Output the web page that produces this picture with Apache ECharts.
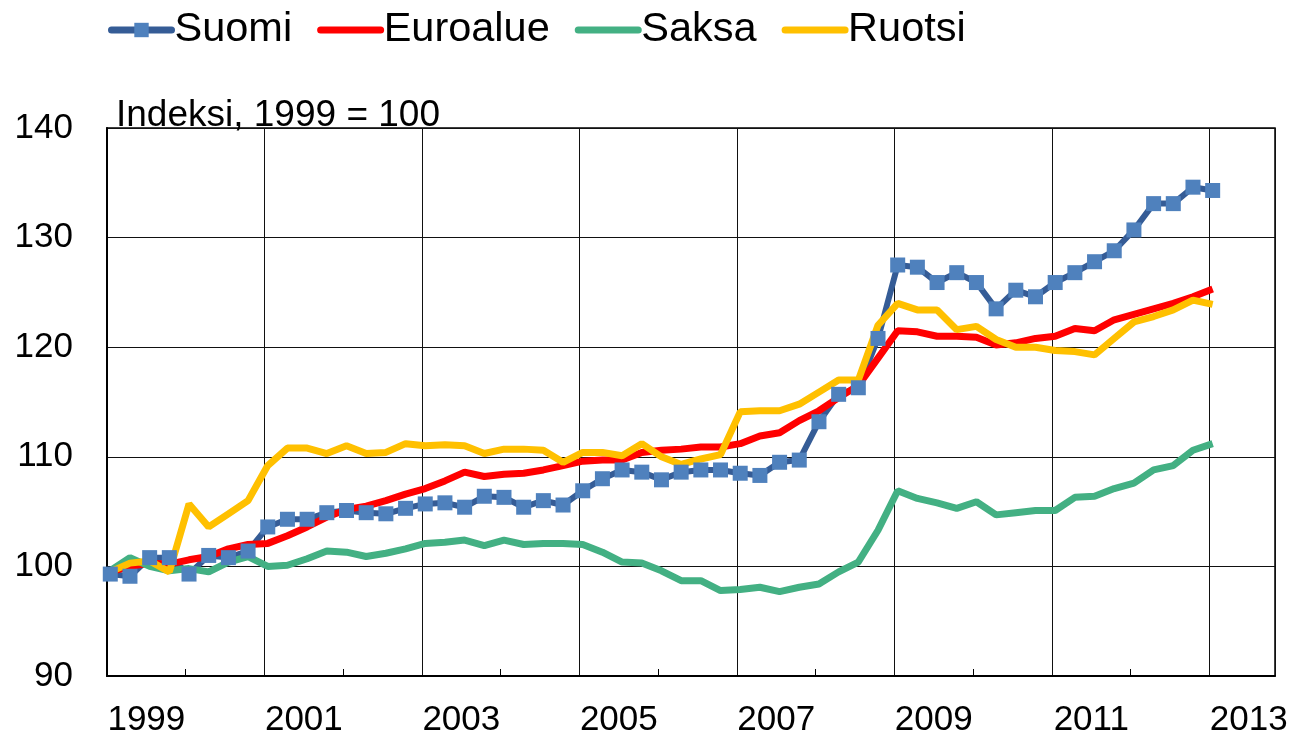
<!DOCTYPE html>
<html>
<head>
<meta charset="utf-8">
<script src="https://cdn.jsdelivr.net/npm/echarts@6/dist/echarts.min.js"></script>
<style>
html,body{margin:0;padding:0;background:#fff;}
#chart{width:1294px;height:738px;}
</style>
</head>
<body>
<div id="chart"></div>
<script>
// Quarters 1999Q1 .. 2013Q1
const quarters = [];
for (let y = 1999; y <= 2013; y++) for (let q = 1; q <= 4; q++) { if (y === 2013 && q > 1) break; quarters.push(y + 'Q' + q); }

const suomi = [99.3,99.1,100.8,100.8,99.3,101.0,100.8,101.4,103.6,104.3,104.3,104.9,105.1,104.9,104.8,105.3,105.7,105.8,105.4,106.4,106.3,105.4,106.0,105.6,106.9,108.0,108.8,108.6,107.9,108.6,108.8,108.8,108.5,108.3,109.5,109.7,113.2,115.7,116.3,120.8,127.5,127.3,125.9,126.8,125.9,123.5,125.2,124.6,125.9,126.8,127.8,128.8,130.7,133.1,133.1,134.6,134.3];
const euroalue = [99.5,100.0,100.3,100.2,100.6,100.9,101.6,102.0,102.1,102.8,103.6,104.5,105.2,105.5,106.0,106.6,107.1,107.8,108.6,108.2,108.4,108.5,108.8,109.2,109.6,109.7,109.7,110.4,110.6,110.7,110.9,110.9,111.2,111.9,112.2,113.3,114.2,115.4,116.5,119.0,121.5,121.4,121.0,121.0,120.9,120.2,120.4,120.8,121.0,121.7,121.5,122.5,123.0,123.5,124.0,124.6,125.3];
const saksa = [99.6,100.8,100.0,99.6,99.8,99.5,100.4,100.9,100.0,100.1,100.7,101.4,101.3,100.9,101.2,101.6,102.1,102.2,102.4,101.9,102.4,102.0,102.1,102.1,102.0,101.3,100.4,100.3,99.6,98.7,98.7,97.8,97.9,98.1,97.7,98.1,98.4,99.5,100.4,103.3,106.9,106.2,105.8,105.3,105.9,104.7,104.9,105.1,105.1,106.3,106.4,107.1,107.6,108.8,109.2,110.6,111.2];
const ruotsi = [99.5,100.3,100.5,99.5,105.7,103.6,104.8,106.0,109.2,110.8,110.8,110.3,111.0,110.3,110.4,111.2,111.0,111.1,111.0,110.3,110.7,110.7,110.6,109.5,110.4,110.4,110.1,111.2,110.0,109.3,109.8,110.2,114.1,114.2,114.2,114.8,115.9,117.0,117.0,122.0,124.0,123.4,123.4,121.6,121.9,120.7,120.0,120.0,119.7,119.6,119.3,120.8,122.3,122.8,123.4,124.3,123.9];

const xLabels = ['1999','2001','2003','2005','2007','2009','2011','2013'];
const minorYears = ['2000','2002','2004','2006','2008','2010','2012'];
const yTicks = [90,100,110,120,130,140];

// x coordinate: months since Jan 1999 (point placed in first month of quarter)
function qToX(q) { const y = +q.slice(0,4), n = +q.slice(5); return (y - 1999) * 12 + (n - 1) * 3 + 0.5; }
function pairs(arr) { return arr.map((v, i) => [qToX(quarters[i]), v]); }
const labelPos = xLabels.map(y => (+y - 1999) * 12 + 6);
const minorPos = minorYears.map(y => (+y - 1999) * 12);

const FONT = '"Liberation Sans", Arial, sans-serif';
const chart = echarts.init(document.getElementById('chart'), null, {renderer: 'canvas'});
chart.setOption({
  animation: false,
  backgroundColor: '#fff',
  title: {
    text: 'Indeksi, 1999 = 100', left: 111, top: 92,
    textStyle: {fontFamily: FONT, fontSize: 37, fontWeight: 'normal', color: '#000'}
  },
  legend: {
    left: 103, top: 4, itemWidth: 60, itemHeight: 18, itemGap: 25,
    lineStyle: {width: 7, cap: 'round'},
    textStyle: {fontFamily: FONT, fontSize: 41.5, color: '#000', padding: [0,0,0,-2]},
    data: [
      {name: 'Suomi', lineStyle: {color: '#355C96', width: 7, cap: 'round'}},
      {name: 'Euroalue', itemStyle: {opacity: 0}},
      {name: 'Saksa', itemStyle: {opacity: 0}},
      {name: 'Ruotsi', itemStyle: {opacity: 0}}
    ]
  },
  grid: {left: 107, right: 19, top: 128, bottom: 62, show: true, borderColor: '#000', borderWidth: 1.5, containLabel: false, outerBoundsMode: 'none'},
  xAxis: [{
    type: 'value', min: 0, max: 178, interval: 24,
    axisLine: {show: true, lineStyle: {color: '#000', width: 2}},
    axisTick: {show: false},
    splitLine: {show: true, lineStyle: {color: '#111', width: 1}},
    axisLabel: {
      customValues: labelPos, margin: 27,
      fontFamily: FONT, fontSize: 35, color: '#000',
      formatter: v => xLabels[labelPos.indexOf(v)] || ''
    }
  }, {
    type: 'value', min: 0, max: 178, position: 'bottom', offset: 0,
    axisLine: {show: false}, splitLine: {show: false}, axisLabel: {show: false},
    axisTick: {show: true, inside: true, length: 7, customValues: minorPos, lineStyle: {color: '#000', width: 1}}
  }],
  yAxis: {
    type: 'value', min: yTicks[0], max: yTicks[yTicks.length-1], interval: 10,
    axisLine: {show: true, lineStyle: {color: '#000', width: 2}},
    axisTick: {show: false},
    splitLine: {show: true, lineStyle: {color: '#111', width: 1}},
    axisLabel: {margin: 34, fontFamily: FONT, fontSize: 35, color: '#000'}
  },
  series: [
    {name: 'Suomi', type: 'line', data: pairs(suomi), symbol: 'rect', symbolSize: 15, showSymbol: true,
     lineStyle: {color: '#355C96', width: 6}, itemStyle: {color: '#4F81BD'}, color: '#4F81BD'},
    {name: 'Euroalue', type: 'line', data: pairs(euroalue), symbol: 'none', lineStyle: {color: '#FF0000', width: 7}, itemStyle: {color: '#FF0000'}},
    {name: 'Saksa', type: 'line', data: pairs(saksa), symbol: 'none', lineStyle: {color: '#43B083', width: 7}, itemStyle: {color: '#43B083'}},
    {name: 'Ruotsi', type: 'line', data: pairs(ruotsi), symbol: 'none', lineStyle: {color: '#FFC000', width: 7}, itemStyle: {color: '#FFC000'}}
  ]
});
</script>
</body>
</html>
